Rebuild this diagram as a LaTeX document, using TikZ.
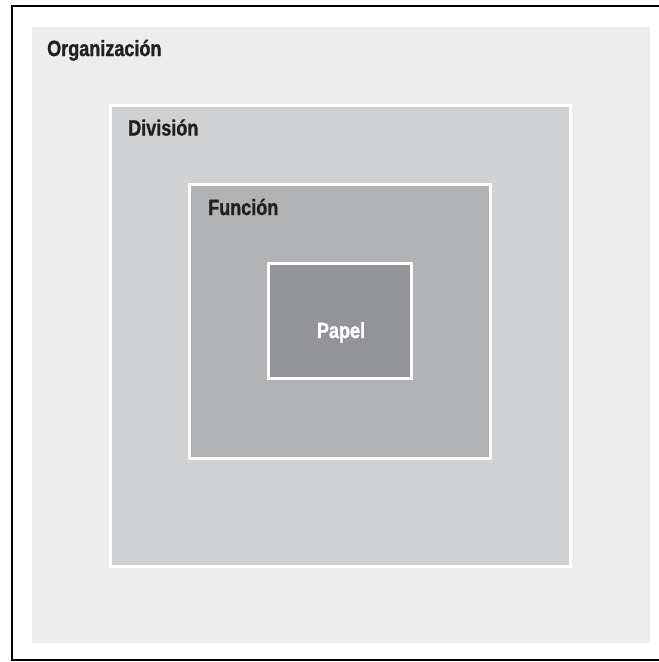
\documentclass[tikz,border=0pt]{standalone}
\usepackage{fontspec}
\setmainfont{Liberation Sans}[FakeStretch=0.82, BoldFeatures={FakeStretch=0.82, FakeBold=1.2}]
\definecolor{orgfill}{HTML}{EDEDED}
\definecolor{divfill}{HTML}{D0D1D3}
\definecolor{funfill}{HTML}{B1B2B4}
\definecolor{papfill}{HTML}{939497}
\definecolor{labeltext}{HTML}{231F20}
\tikzset{
  levelbox/.style={draw=white, line width=3pt},
  levellabel/.style={anchor=base west, inner sep=0pt, font=\bfseries\fontsize{22}{26}\selectfont, text=labeltext},
}
\begin{document}
\begin{tikzpicture}[x=1pt,y=-1pt]
\useasboundingbox (0,0) rectangle (659,662);
\fill[white] (0,0) rectangle (659,662);
\draw[black, line width=2pt] (12,6) rectangle (664,660);
\fill[orgfill] (32,27) rectangle (650,643);
\draw[levelbox, fill=divfill] (110,105) rectangle (570.5,566);
\draw[levelbox, fill=funfill] (189,184) rectangle (490.5,458);
\draw[levelbox, fill=papfill] (268.5,263.5) rectangle (411,378);
\node[levellabel] (org) at (47,56) {Organización};
\node[levellabel] (div) at (128,135.5) {División};
\node[levellabel] (fun) at (208,215) {Función};
\node[levellabel, anchor=base, text=white] (pap) at (341,338) {Papel};
\end{tikzpicture}
\end{document}
